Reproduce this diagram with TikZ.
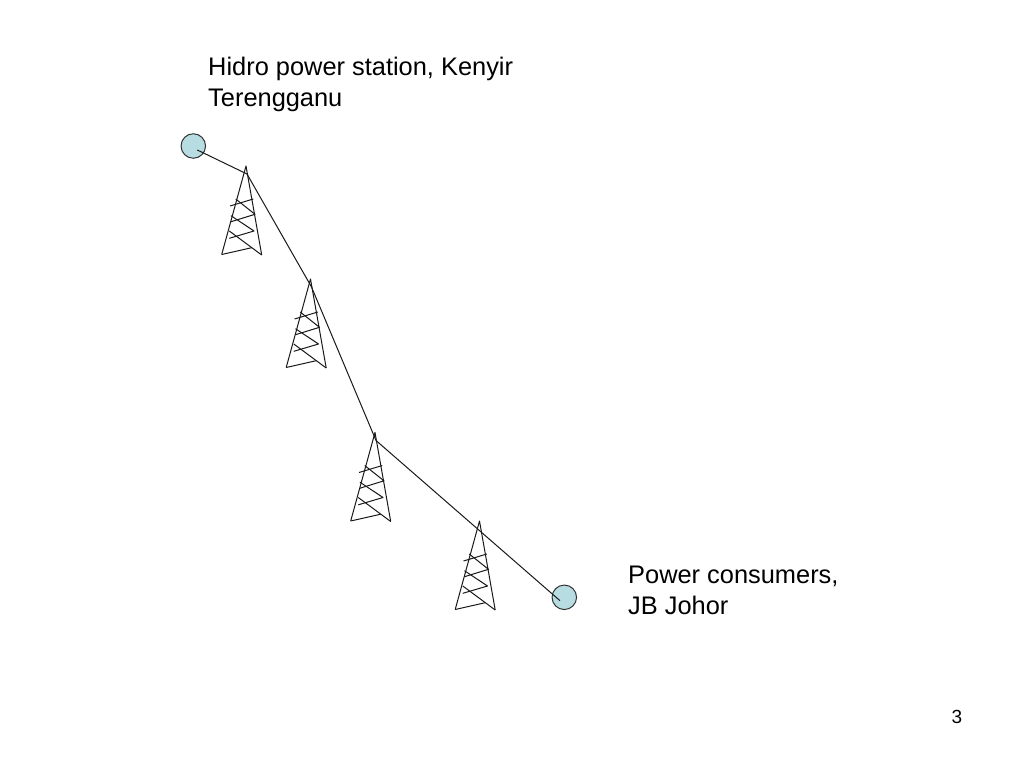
\documentclass[tikz,border=0pt]{standalone}
\usepackage{fontspec}
\setmainfont{Liberation Sans}
\usetikzlibrary{positioning}
\definecolor{stationblue}{HTML}{B7DDE3}
\tikzstyle{station} = [
circle, draw=black!80, fill=stationblue, minimum size=24.5pt, inner sep=0pt, line width=1pt
]
\tikzstyle{wire} = [line width=1pt, black!90, line join=round]
\tikzstyle{caption} = [
anchor=north west, align=left, inner sep=0pt, font=\fontsize{25.4}{31}\selectfont
]
\tikzset{
tower/.pic={
	\draw [wire] (-24.3,88.5) -- (0,0) -- (15.7,89);
	\draw [wire] (-24.3,88.5) -- (5.7,81.7);
	\draw [wire] (-16.7,72.3) -- (8,65) -- (-15,49.7);
	\draw [wire] (-15,55.7) -- (9,48.3) -- (-10.3,33);
	\draw [wire] (-16,40) -- (7.3,33);
	\draw [wire] (-16.7,65) -- (15.7,89);
	\coordinate (-wire) at (1,8);
}
}

\begin{document}
\begin{tikzpicture}[x=1pt, y=-1pt]
	\useasboundingbox (0,0) rectangle (1024,768);

	% Stations
	\node (S_1) [station] at (193.3,146) {};
	\node (S_2) [station] at (564.3,597.3) {};
	\coordinate (S_1_wire) at (197.3,150);
	\coordinate (S_2_wire) at (560,600.7);

	% Towers
	\pic (T_1) at (246,166) {tower};
	\pic (T_2) at (310.5,279) {tower};
	\pic (T_3) at (375,432.5) {tower};
	\pic (T_4) at (479.5,521) {tower};

	% Connections
	\draw [wire] (S_1_wire) -- (T_1-wire) -- (T_2-wire) -- (T_3-wire) -- (S_2_wire);

	% Labels
	\node (Hidro) [caption] at (208,57) {Hidro power station, Kenyir\\Terengganu};
	\node (Consumers) [caption] at (628,566) {Power consumers,\\JB Johor};
	\node (Page) [anchor=north west, inner sep=0pt, font=\fontsize{19}{24}\selectfont] at (951.5,710) {3};
\end{tikzpicture}
\end{document}
